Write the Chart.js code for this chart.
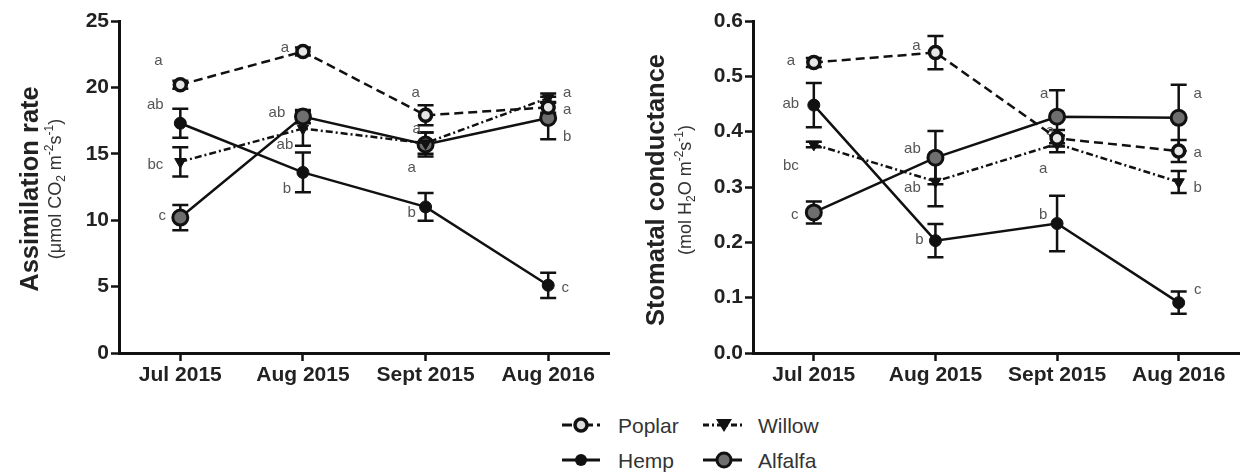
<!DOCTYPE html>
<html>
<head>
<meta charset="utf-8">
<script src="https://cdn.jsdelivr.net/npm/chart.js@4.4.1/dist/chart.umd.min.js"></script>
<style>
  body { margin: 0; width: 1241px; height: 472px; overflow: hidden; background: #fff; font-family: "Liberation Sans", Arial, sans-serif; }
  .box { position: absolute; top: 0; height: 400px; }
  #leftBox { left: 0; width: 620px; }
  #rightBox { left: 620px; width: 630px; }
  .leg { position: absolute; font-size: 21px; color: #333; line-height: 1; }
  .sym { position: absolute; }
</style>
</head>
<body>
<div id="leftBox" class="box"><canvas id="assim"></canvas></div>
<div id="rightBox" class="box"><canvas id="stomatal"></canvas></div>

<svg class="sym" style="left:555px;top:410px" width="200" height="62">
  <!-- poplar -->
  <line x1="7" y1="15" x2="45" y2="15" stroke="#111" stroke-width="3" stroke-dasharray="10,4,3,4"/>
  <circle cx="26" cy="15" r="6" fill="#ddd" stroke="#111" stroke-width="3.5"/>
  <!-- willow -->
  <line x1="148" y1="15" x2="187" y2="15" stroke="#111" stroke-width="3" stroke-dasharray="6,3,2,3"/>
  <polygon points="161,9 177,9 169,22" fill="#111"/>
  <!-- hemp -->
  <line x1="7" y1="50" x2="45" y2="50" stroke="#111" stroke-width="3"/>
  <circle cx="26" cy="50" r="6" fill="#111"/>
  <!-- alfalfa -->
  <line x1="148" y1="50" x2="187" y2="50" stroke="#111" stroke-width="3"/>
  <circle cx="169" cy="50" r="7" fill="#6e6e6e" stroke="#111" stroke-width="3"/>
</svg>
<div class="leg" style="left:618px;top:415px">Poplar</div>
<div class="leg" style="left:758px;top:415px">Willow</div>
<div class="leg" style="left:618px;top:450px">Hemp</div>
<div class="leg" style="left:758px;top:450px">Alfalfa</div>

<script>
// sampling dates
const months = ["Jul 2015", "Aug 2015", "Sept 2015", "Aug 2016"];
const seriesNames = ["Poplar", "Hemp", "Willow", "Alfalfa"];

// assimilation rate (umol CO2 m-2 s-1), mean and error
const poplarA = [20.2, 22.7, 17.9, 18.5];
const poplarAErr = [0.3, 0.3, 0.75, 0.4];
const hempA = [17.3, 13.6, 11.0, 5.1];
const hempAErr = [1.1, 1.5, 1.05, 0.95];
const willowA = [14.4, 16.9, 15.8, 19.2];
const willowAErr = [1.1, 1.3, 0.8, 0.35];
const alfalfaA = [10.2, 17.8, 15.7, 17.7];
const alfalfaAErr = [0.95, 0.5, 0.9, 1.6];

// stomatal conductance (mol H2O m-2 s-1), mean and error
const poplarG = [0.525, 0.543, 0.388, 0.365];
const poplarGErr = [0.008, 0.03, 0.015, 0.02];
const hempG = [0.448, 0.203, 0.234, 0.091];
const hempGErr = [0.04, 0.03, 0.05, 0.02];
const willowG = [0.377, 0.31, 0.378, 0.309];
const willowGErr = [0.005, 0.045, 0.015, 0.02];
const alfalfaG = [0.254, 0.353, 0.427, 0.425];
const alfalfaGErr = [0.02, 0.048, 0.048, 0.06];

// significance letters
const poplarALetters = ["a", "a", "a", "a"];
const hempALetters = ["ab", "b", "b", "c"];
const willowALetters = ["bc", "ab", "a", "a"];
const alfalfaALetters = ["c", "ab", "a", "b"];
const poplarGLetters = ["a", "a", "a", "a"];
const hempGLetters = ["ab", "b", "b", "c"];
const willowGLetters = ["bc", "ab", "a", "b"];
const alfalfaGLetters = ["c", "ab", "a", "a"];

// y ticks
const assimTicks = [0, 5, 10, 15, 20, 25];
const stomTicks = [0, 0.1, 0.2, 0.3, 0.4, 0.5, 0.6];

// where each letter sits relative to its point (px)
const letterOffA = [
  [[-22, -24], [-18, -4], [-10, -22], [19, 3]],
  [[-25, -18], [-16, 16], [-14, 6], [17, 3]],
  [[-25, 3], [-18, 16], [-14, 25], [19, -5]],
  [[-18, -2], [-26, -4], [-9, -16], [19, 19]]
];
const letterOffG = [
  [[-23, -2], [-19, -7], [-7, -7], [19, 2]],
  [[-23, -1], [-16, -1], [-14, -9], [19, -13]],
  [[-23, 21], [-23, 6], [-14, 25], [19, 6]],
  [[-19, 2], [-23, -9], [-13, -23], [19, -24]]
];

const INK = "#111";
const tickFont = { family: "Liberation Sans", size: 21, weight: "bold" };

const errorBars = {
  id: "errorBars",
  beforeDatasetsDraw(chart) {
    const ctx = chart.ctx;
    const y = chart.scales.y;
    ctx.save();
    ctx.strokeStyle = INK;
    ctx.lineWidth = 2.5;
    chart.data.datasets.forEach((ds, i) => {
      const meta = chart.getDatasetMeta(i);
      ds.errors.forEach((e, j) => {
        const px = meta.data[j].x;
        const top = y.getPixelForValue(ds.data[j] + e);
        const bot = y.getPixelForValue(ds.data[j] - e);
        ctx.beginPath();
        ctx.moveTo(px, top); ctx.lineTo(px, bot);
        ctx.moveTo(px - 8, top); ctx.lineTo(px + 8, top);
        ctx.moveTo(px - 8, bot); ctx.lineTo(px + 8, bot);
        ctx.stroke();
      });
    });
    ctx.restore();
  }
};

const letterLabels = {
  id: "letterLabels",
  beforeDatasetsDraw(chart, args, opts) {
    const ctx = chart.ctx;
    ctx.save();
    ctx.fillStyle = "#555";
    ctx.font = "15px 'Liberation Sans'";
    ctx.textAlign = "center";
    ctx.textBaseline = "middle";
    chart.data.datasets.forEach((ds, i) => {
      const meta = chart.getDatasetMeta(i);
      ds.letters.forEach((t, j) => {
        const off = opts.offsets[i][j];
        ctx.fillText(t, meta.data[j].x + off[0], meta.data[j].y + off[1]);
      });
    });
    ctx.restore();
  }
};

// rotated y title with sub/superscripts in the unit line
const yTitles = {
  id: "yTitles",
  afterDraw(chart, args, o) {
    const ctx = chart.ctx;
    ctx.save();
    ctx.fillStyle = "#222";
    ctx.translate(o.mainX, o.cy);
    ctx.rotate(-Math.PI / 2);
    ctx.font = "bold 25.5px 'Liberation Sans'";
    ctx.textAlign = "center";
    ctx.textBaseline = "middle";
    ctx.fillText(o.main, 0, 0);
    ctx.restore();

    ctx.save();
    ctx.fillStyle = "#333";
    ctx.translate(o.subX, o.cy);
    ctx.rotate(-Math.PI / 2);
    ctx.textBaseline = "alphabetic";
    ctx.textAlign = "left";
    const big = "18px 'Liberation Sans'", small = "12px 'Liberation Sans'";
    let w = 0;
    o.sub.forEach(p => { ctx.font = p[1] ? small : big; w += ctx.measureText(p[0]).width; });
    let x = -w / 2;
    o.sub.forEach(p => {
      ctx.font = p[1] ? small : big;
      const dy = p[1] === 1 ? -8 : p[1] === -1 ? 4 : 0;
      ctx.fillText(p[0], x, 6 + dy);
      x += ctx.measureText(p[0]).width;
    });
    ctx.restore();
  }
};

function makeSets(vals, errs, letters) {
  return [
    { label: seriesNames[0], data: vals[0], errors: errs[0], letters: letters[0],
      borderColor: INK, borderWidth: 2.5, borderDash: [9, 5],
      pointStyle: "circle", pointRadius: 6, pointBackgroundColor: "#e6e6e6",
      pointBorderColor: INK, pointBorderWidth: 3.5 },
    { label: seriesNames[1], data: vals[1], errors: errs[1], letters: letters[1],
      borderColor: INK, borderWidth: 2.5,
      pointStyle: "circle", pointRadius: 6, pointBackgroundColor: INK,
      pointBorderColor: INK, pointBorderWidth: 1 },
    { label: seriesNames[2], data: vals[2], errors: errs[2], letters: letters[2],
      borderColor: INK, borderWidth: 2.5, borderDash: [7, 3, 2, 3],
      pointStyle: "triangle", pointRotation: 180, pointRadius: 6.5,
      pointBackgroundColor: INK, pointBorderColor: INK, pointBorderWidth: 1 },
    { label: seriesNames[3], data: vals[3], errors: errs[3], letters: letters[3],
      borderColor: INK, borderWidth: 2.5,
      pointStyle: "circle", pointRadius: 7.5, pointBackgroundColor: "#6e6e6e",
      pointBorderColor: INK, pointBorderWidth: 3 }
  ];
}

function makeChart(id, sets, yTicks, yMax, fmt, cfg) {
  return new Chart(id, {
    type: "line",
    data: { labels: months, datasets: sets },
    options: {
      responsive: true,
      maintainAspectRatio: false,
      animation: false,
      layout: { padding: { top: 21, right: cfg.padRight, left: 0, bottom: 0 } },
      plugins: {
        legend: { display: false },
        tooltip: { enabled: false },
        letterLabels: { offsets: cfg.offsets },
        yTitles: cfg.titles
      },
      scales: {
        x: {
          offset: true,
          grid: { drawOnChartArea: false, tickLength: 8, tickWidth: 2.5, tickColor: INK },
          border: { width: 3, color: INK },
          ticks: { font: tickFont, color: "#222", padding: 2, maxRotation: 0 },
          afterFit: s => { s.height = 47; }
        },
        y: {
          min: 0, max: yMax,
          grid: { drawOnChartArea: false, tickLength: 8, tickWidth: 2.5, tickColor: INK },
          border: { width: 3, color: INK },
          ticks: { font: tickFont, color: "#222", padding: 2, callback: fmt },
          afterBuildTicks: s => { s.ticks = yTicks.map(v => ({ value: v })); },
          afterFit: s => { s.width = cfg.axisLeft; }
        }
      }
    },
    plugins: [errorBars, letterLabels, yTitles]
  });
}

makeChart("assim",
  makeSets([poplarA, hempA, willowA, alfalfaA],
           [poplarAErr, hempAErr, willowAErr, alfalfaAErr],
           [poplarALetters, hempALetters, willowALetters, alfalfaALetters]),
  assimTicks, 25, v => String(v),
  { padRight: 6, axisLeft: 119, offsets: letterOffA,
    titles: { main: "Assimilation rate", mainX: 31, subX: 55, cy: 189,
      sub: [["(\u03bcmol CO", 0], ["2", -1], [" m", 0], ["-2", 1], ["s", 0], ["-1", 1], [")", 0]] } });

makeChart("stomatal",
  makeSets([poplarG, hempG, willowG, alfalfaG],
           [poplarGErr, hempGErr, willowGErr, alfalfaGErr],
           [poplarGLetters, hempGLetters, willowGLetters, alfalfaGLetters]),
  stomTicks, 0.6, v => v.toFixed(1),
  { padRight: 5, axisLeft: 133, offsets: letterOffG,
    titles: { main: "Stomatal conductance", mainX: 37, subX: 65, cy: 190,
      sub: [["(mol H", 0], ["2", -1], ["O m", 0], ["-2", 1], ["s", 0], ["-1", 1], [")", 0]] } });
</script>
</body>
</html>
